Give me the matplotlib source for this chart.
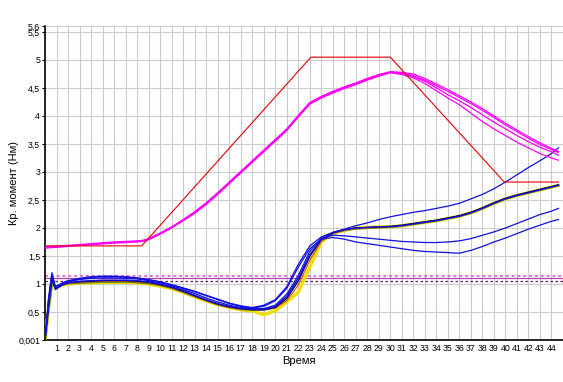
import numpy as np
import matplotlib
matplotlib.use("Agg")
import matplotlib.pyplot as plt

plt.rcParams['font.family'] = ['Liberation Sans', 'DejaVu Sans']

# Setpoint (red)
set_t = [0, 8.4, 23.1, 30, 39.9, 44.6]
set_v = [1.68, 1.68, 5.05, 5.05, 2.82, 2.82]

# Magenta traces
mag_t = [0, 2, 4, 6, 8, 8.5, 9, 10, 11, 12, 13, 14, 15, 16, 17, 18, 19, 20, 21, 22, 23,
         24, 25, 26, 27, 28, 29, 30, 31, 32, 33, 34, 35, 36, 37, 38, 39, 40, 41, 42, 43, 44, 44.6]
mag_1 = [1.65, 1.68, 1.71, 1.74, 1.76, 1.77, 1.8, 1.9, 2.01, 2.14, 2.27, 2.43, 2.61, 2.8, 2.99, 3.18,
         3.37, 3.56, 3.75, 3.99, 4.22, 4.33, 4.42, 4.5, 4.57, 4.65, 4.72, 4.78, 4.76, 4.72, 4.64, 4.54,
         4.44, 4.33, 4.22, 4.1, 3.97, 3.84, 3.72, 3.6, 3.49, 3.4, 3.35]
mag_2 = [1.66, 1.69, 1.72, 1.75, 1.77, 1.78, 1.81, 1.91, 2.02, 2.15, 2.29, 2.45, 2.63, 2.82, 3.01, 3.2,
         3.39, 3.58, 3.77, 4.01, 4.24, 4.35, 4.44, 4.52, 4.59, 4.67, 4.74, 4.79, 4.78, 4.75, 4.67, 4.57,
         4.47, 4.36, 4.25, 4.13, 4.0, 3.87, 3.75, 3.63, 3.52, 3.42, 3.37]
mag_3 = [1.64, 1.67, 1.7, 1.73, 1.75, 1.76, 1.79, 1.89, 2.0, 2.13, 2.26, 2.42, 2.6, 2.79, 2.98, 3.17,
         3.36, 3.55, 3.74, 3.98, 4.21, 4.32, 4.41, 4.49, 4.56, 4.64, 4.71, 4.77, 4.74, 4.68, 4.58, 4.45,
         4.32, 4.2, 4.05, 3.9, 3.77, 3.65, 3.53, 3.43, 3.33, 3.25, 3.21]
mag_4 = [1.65, 1.68, 1.71, 1.74, 1.76, 1.77, 1.8, 1.9, 2.01, 2.14, 2.28, 2.44, 2.62, 2.81, 3.0, 3.19,
         3.38, 3.57, 3.76, 4.0, 4.23, 4.34, 4.43, 4.51, 4.58, 4.66, 4.73, 4.78, 4.77, 4.7, 4.62, 4.5,
         4.38, 4.27, 4.15, 4.02, 3.89, 3.77, 3.65, 3.54, 3.44, 3.36, 3.3]

# Lower traces
low_t = [0, 0.3, 0.6, 0.9, 1.5, 2, 3, 4, 5, 6, 7, 8, 9, 10, 11, 12, 13, 14, 15, 16, 17, 18, 19, 20,
         21, 22, 23, 24, 25, 26, 27, 28, 29, 30, 31, 32, 33, 34, 35, 36, 37, 38, 39, 40, 41, 42, 43, 44, 44.6]
blue_a = [0.0, 0.75, 1.2, 0.95, 1.02, 1.06, 1.1, 1.13, 1.14, 1.14, 1.13, 1.11, 1.08, 1.04, 0.99, 0.93,
          0.87, 0.8, 0.73, 0.66, 0.61, 0.58, 0.62, 0.72, 0.95, 1.35, 1.68, 1.84, 1.92, 1.98, 2.04, 2.09,
          2.15, 2.2, 2.24, 2.28, 2.31, 2.35, 2.39, 2.44, 2.52, 2.6, 2.7, 2.82, 2.95, 3.08, 3.2, 3.33, 3.43]
blue_b = [0.0, 0.6, 1.1, 0.9, 0.98, 1.02, 1.05, 1.06, 1.07, 1.07, 1.07, 1.06, 1.04, 1.0, 0.95, 0.88,
          0.8, 0.72, 0.65, 0.6, 0.56, 0.55, 0.55, 0.6, 0.78, 1.1, 1.52, 1.8, 1.92, 1.97, 2.0, 2.01,
          2.02, 2.02, 2.04, 2.07, 2.1, 2.13, 2.17, 2.21, 2.27, 2.35, 2.44, 2.52, 2.58, 2.63, 2.68, 2.73, 2.76]
blue_c = [0.0, 0.65, 1.15, 0.92, 1.0, 1.04, 1.08, 1.1, 1.11, 1.11, 1.1, 1.09, 1.06, 1.02, 0.97, 0.9,
          0.83, 0.75, 0.68, 0.62, 0.58, 0.56, 0.56, 0.62, 0.82, 1.15, 1.58, 1.82, 1.87, 1.86, 1.84, 1.82,
          1.8, 1.78, 1.76, 1.75, 1.74, 1.74, 1.75, 1.77, 1.81, 1.87, 1.93, 2.0, 2.08, 2.16, 2.24, 2.3, 2.35]
blue_d = [0.0, 0.7, 1.18, 0.93, 1.0, 1.05, 1.09, 1.12, 1.13, 1.13, 1.12, 1.1, 1.07, 1.03, 0.98, 0.92,
          0.86, 0.79, 0.72, 0.65, 0.6, 0.57, 0.6, 0.7, 0.92, 1.3, 1.63, 1.8, 1.83, 1.8, 1.75, 1.72,
          1.69, 1.66, 1.63, 1.6, 1.58, 1.57, 1.56, 1.55, 1.6, 1.67, 1.75, 1.82, 1.9, 1.98, 2.05, 2.12, 2.15]
navy = [0.0, 0.6, 1.08, 0.92, 0.99, 1.02, 1.04, 1.05, 1.06, 1.06, 1.06, 1.05, 1.03, 0.99, 0.94, 0.87,
        0.79, 0.71, 0.64, 0.59, 0.56, 0.54, 0.54, 0.58, 0.74, 1.05, 1.5, 1.79, 1.91, 1.97, 2.0, 2.01,
        2.02, 2.03, 2.05, 2.08, 2.11, 2.14, 2.18, 2.22, 2.28, 2.36, 2.45, 2.53, 2.59, 2.64, 2.69, 2.74, 2.77]
yellow = [0.0, 0.55, 1.05, 0.93, 0.98, 1.0, 1.02, 1.02, 1.03, 1.03, 1.03, 1.02, 1.0, 0.96, 0.92, 0.85,
          0.77, 0.7, 0.63, 0.58, 0.54, 0.52, 0.45, 0.52, 0.68, 0.85, 1.3, 1.75, 1.9, 1.96, 2.0, 2.01,
          2.02, 2.02, 2.04, 2.07, 2.1, 2.13, 2.17, 2.21, 2.27, 2.35, 2.44, 2.52, 2.58, 2.63, 2.68, 2.73, 2.76]
green = [0.0, 0.55, 1.02, 0.95, 0.99, 1.01, 1.02, 1.03, 1.04, 1.04, 1.04, 1.03, 1.01, 0.98, 0.93, 0.86,
         0.78, 0.71, 0.64, 0.59, 0.55, 0.54, 0.54, 0.58, 0.76, 1.08, 1.5, 1.79, 1.91, 1.96, 1.99, 2.0,
         2.01, 2.02, 2.04, 2.07, 2.1, 2.13, 2.17, 2.21, 2.27, 2.35, 2.44, 2.52, 2.58, 2.63, 2.68, 2.73, 2.76]
orange = [0.0, 0.58, 1.06, 0.92, 0.98, 1.01, 1.03, 1.04, 1.05, 1.05, 1.05, 1.04, 1.02, 0.98, 0.93, 0.86,
          0.78, 0.7, 0.63, 0.58, 0.55, 0.54, 0.54, 0.57, 0.7, 0.98, 1.42, 1.76, 1.9, 1.96, 1.99, 2.0,
          2.01, 2.02, 2.04, 2.07, 2.1, 2.13, 2.17, 2.21, 2.27, 2.35, 2.44, 2.52, 2.58, 2.63, 2.68, 2.73, 2.76]

# limit lines
lim_hi = 1.15
lim_mid = 1.11
lim_lo = 1.05

x_ticks = list(range(1, 45))
y_ticks = [0.001, 0.5, 1, 1.5, 2, 2.5, 3, 3.5, 4, 4.5, 5, 5.5, 5.6]
y_labels = ['0,001', '0,5', '1', '1,5', '2', '2,5', '3', '3,5', '4', '4,5', '5', '5,5', '5,6']

fig = plt.figure(figsize=(5.63, 3.82), dpi=100)
ax = fig.add_axes([0.08, 0.11, 0.92, 0.821])

# limit lines
ax.axhline(lim_hi, color='#e070e0', lw=1.4, ls=(0, (1.5, 1.5)), zorder=2)
ax.axhline(lim_mid, color='#b040b0', lw=0.9, zorder=2)
ax.axhline(lim_lo, color='#602060', lw=0.9, ls=(0, (2, 2)), zorder=2)

# noisy band colours under the blue
ax.plot(low_t, yellow, color='#f0e000', lw=2.4, zorder=3)
ax.plot(low_t, green, color='#5a8a10', lw=1.6, zorder=3)
ax.plot(low_t, orange, color='#e05020', lw=0.9, zorder=3)
ax.plot(low_t, navy, color='#000080', lw=0.9, zorder=4)

for vals in [blue_a, blue_b, blue_c, blue_d]:
    ax.plot(low_t, vals, color='#1010e0', lw=0.9, zorder=5)

for vals in [mag_1, mag_2, mag_3, mag_4]:
    ax.plot(mag_t, vals, color='#ff00ff', lw=0.9, zorder=5)

ax.plot(set_t, set_v, color='#e00000', lw=0.8, zorder=6)

ax.set_xlim(0, 45)
ax.set_ylim(0, 5.6)
ax.set_xticks(x_ticks)
ax.set_xticklabels([str(v) for v in x_ticks], fontsize=6.3)
ax.set_yticks(y_ticks)
ax.set_yticklabels(y_labels, fontsize=6.3)
ax.tick_params(axis='x', length=0, pad=3)
ax.tick_params(axis='y', length=2, pad=1.5)

ax.grid(True, color='#cccccc', lw=0.8)
ax.set_axisbelow(True)
for s in ['top', 'right']:
    ax.spines[s].set_visible(False)
ax.spines['left'].set_linewidth(1.2)
ax.spines['bottom'].set_linewidth(1.2)

ax.set_xlabel('Время', fontsize=8)
ax.xaxis.set_label_coords(0.49, -0.05)
ax.set_ylabel('Кр. момент (Нм)', fontsize=8)
ax.yaxis.set_label_coords(-0.05, 0.5)

fig.savefig('out.png', dpi=100)
